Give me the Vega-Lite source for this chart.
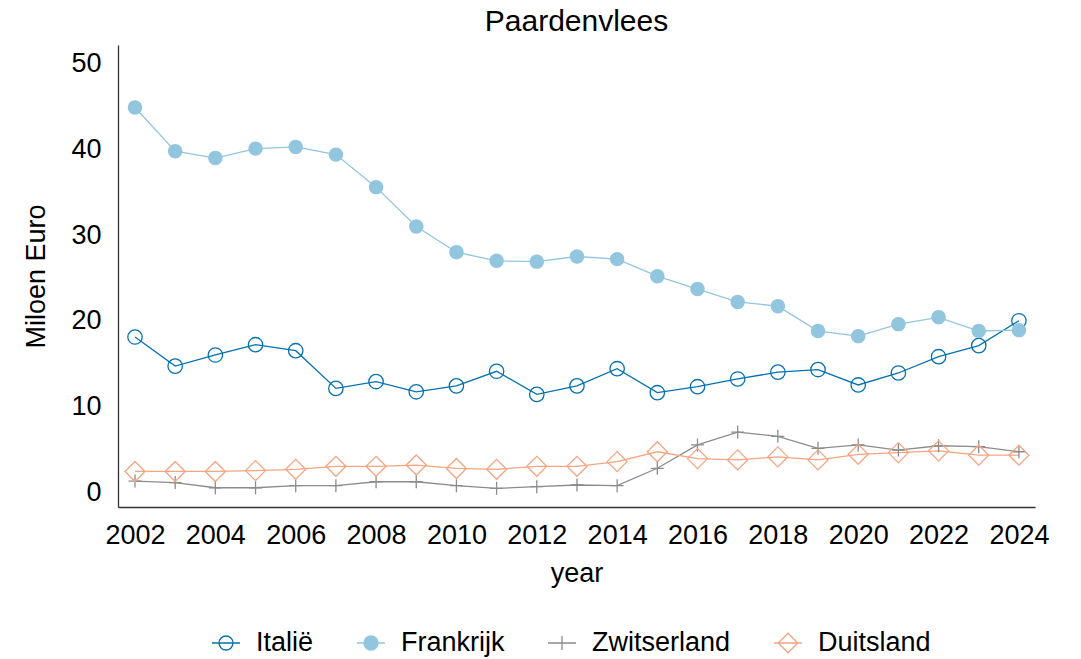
{
  "$schema": "https://vega.github.io/schema/vega-lite/v6.json",
  "autosize": "none",
  "width": 917,
  "height": 462,
  "padding": {"left": 118, "top": 45, "right": 46, "bottom": 152},
  "background": "white",
  "config": {
    "view": {"stroke": null},
    "font": "Liberation Sans",
    "title": {"fontSize": 30, "fontWeight": "normal", "color": "black", "font": "Liberation Sans"}
  },
  "title": {"text": "Paardenvlees", "anchor": "middle", "offset": 8},
  "data": {
    "values": [
      {"year": 2002, "country": "Italië", "value": 18.1},
      {"year": 2003, "country": "Italië", "value": 14.7},
      {"year": 2004, "country": "Italië", "value": 16.0},
      {"year": 2005, "country": "Italië", "value": 17.2},
      {"year": 2006, "country": "Italië", "value": 16.5},
      {"year": 2007, "country": "Italië", "value": 12.1},
      {"year": 2008, "country": "Italië", "value": 12.9},
      {"year": 2009, "country": "Italië", "value": 11.7},
      {"year": 2010, "country": "Italië", "value": 12.4},
      {"year": 2011, "country": "Italië", "value": 14.1},
      {"year": 2012, "country": "Italië", "value": 11.4},
      {"year": 2013, "country": "Italië", "value": 12.4},
      {"year": 2014, "country": "Italië", "value": 14.4},
      {"year": 2015, "country": "Italië", "value": 11.6},
      {"year": 2016, "country": "Italië", "value": 12.3},
      {"year": 2017, "country": "Italië", "value": 13.2},
      {"year": 2018, "country": "Italië", "value": 14.0},
      {"year": 2019, "country": "Italië", "value": 14.3},
      {"year": 2020, "country": "Italië", "value": 12.5},
      {"year": 2021, "country": "Italië", "value": 13.9},
      {"year": 2022, "country": "Italië", "value": 15.8},
      {"year": 2023, "country": "Italië", "value": 17.1},
      {"year": 2024, "country": "Italië", "value": 20.0},
      {"year": 2002, "country": "Frankrijk", "value": 44.9},
      {"year": 2003, "country": "Frankrijk", "value": 39.8},
      {"year": 2004, "country": "Frankrijk", "value": 39.0},
      {"year": 2005, "country": "Frankrijk", "value": 40.1},
      {"year": 2006, "country": "Frankrijk", "value": 40.3},
      {"year": 2007, "country": "Frankrijk", "value": 39.4},
      {"year": 2008, "country": "Frankrijk", "value": 35.6},
      {"year": 2009, "country": "Frankrijk", "value": 31.0},
      {"year": 2010, "country": "Frankrijk", "value": 28.0},
      {"year": 2011, "country": "Frankrijk", "value": 27.0},
      {"year": 2012, "country": "Frankrijk", "value": 26.9},
      {"year": 2013, "country": "Frankrijk", "value": 27.5},
      {"year": 2014, "country": "Frankrijk", "value": 27.2},
      {"year": 2015, "country": "Frankrijk", "value": 25.2},
      {"year": 2016, "country": "Frankrijk", "value": 23.7},
      {"year": 2017, "country": "Frankrijk", "value": 22.2},
      {"year": 2018, "country": "Frankrijk", "value": 21.7},
      {"year": 2019, "country": "Frankrijk", "value": 18.8},
      {"year": 2020, "country": "Frankrijk", "value": 18.2},
      {"year": 2021, "country": "Frankrijk", "value": 19.6},
      {"year": 2022, "country": "Frankrijk", "value": 20.4},
      {"year": 2023, "country": "Frankrijk", "value": 18.8},
      {"year": 2024, "country": "Frankrijk", "value": 18.9},
      {"year": 2002, "country": "Zwitserland", "value": 1.28},
      {"year": 2003, "country": "Zwitserland", "value": 1.1},
      {"year": 2004, "country": "Zwitserland", "value": 0.5},
      {"year": 2005, "country": "Zwitserland", "value": 0.5},
      {"year": 2006, "country": "Zwitserland", "value": 0.74},
      {"year": 2007, "country": "Zwitserland", "value": 0.74},
      {"year": 2008, "country": "Zwitserland", "value": 1.2},
      {"year": 2009, "country": "Zwitserland", "value": 1.2},
      {"year": 2010, "country": "Zwitserland", "value": 0.74},
      {"year": 2011, "country": "Zwitserland", "value": 0.43},
      {"year": 2012, "country": "Zwitserland", "value": 0.62},
      {"year": 2013, "country": "Zwitserland", "value": 0.82},
      {"year": 2014, "country": "Zwitserland", "value": 0.74},
      {"year": 2015, "country": "Zwitserland", "value": 2.77},
      {"year": 2016, "country": "Zwitserland", "value": 5.5},
      {"year": 2017, "country": "Zwitserland", "value": 7.0},
      {"year": 2018, "country": "Zwitserland", "value": 6.5},
      {"year": 2019, "country": "Zwitserland", "value": 5.1},
      {"year": 2020, "country": "Zwitserland", "value": 5.5},
      {"year": 2021, "country": "Zwitserland", "value": 4.9},
      {"year": 2022, "country": "Zwitserland", "value": 5.4},
      {"year": 2023, "country": "Zwitserland", "value": 5.3},
      {"year": 2024, "country": "Zwitserland", "value": 4.7},
      {"year": 2002, "country": "Duitsland", "value": 2.4},
      {"year": 2003, "country": "Duitsland", "value": 2.4},
      {"year": 2004, "country": "Duitsland", "value": 2.4},
      {"year": 2005, "country": "Duitsland", "value": 2.5},
      {"year": 2006, "country": "Duitsland", "value": 2.65},
      {"year": 2007, "country": "Duitsland", "value": 3.0},
      {"year": 2008, "country": "Duitsland", "value": 3.0},
      {"year": 2009, "country": "Duitsland", "value": 3.15},
      {"year": 2010, "country": "Duitsland", "value": 2.75},
      {"year": 2011, "country": "Duitsland", "value": 2.65},
      {"year": 2012, "country": "Duitsland", "value": 3.0},
      {"year": 2013, "country": "Duitsland", "value": 3.0},
      {"year": 2014, "country": "Duitsland", "value": 3.55},
      {"year": 2015, "country": "Duitsland", "value": 4.7},
      {"year": 2016, "country": "Duitsland", "value": 3.9},
      {"year": 2017, "country": "Duitsland", "value": 3.75},
      {"year": 2018, "country": "Duitsland", "value": 4.1},
      {"year": 2019, "country": "Duitsland", "value": 3.75},
      {"year": 2020, "country": "Duitsland", "value": 4.4},
      {"year": 2021, "country": "Duitsland", "value": 4.6},
      {"year": 2022, "country": "Duitsland", "value": 4.8},
      {"year": 2023, "country": "Duitsland", "value": 4.3},
      {"year": 2024, "country": "Duitsland", "value": 4.3}
    ]
  },
  "encoding": {
    "x": {
      "field": "year", "type": "quantitative",
      "scale": {"domain": [2001.577, 2024.4], "nice": false, "zero": false},
      "axis": {
        "values": [2002, 2004, 2006, 2008, 2010, 2012, 2014, 2016, 2018, 2020, 2022, 2024],
        "format": "d", "grid": false, "ticks": false,
        "domainColor": "#333333", "domainWidth": 1.3,
        "labelFontSize": 27, "labelColor": "black", "labelPadding": 15, "labelFlush": false,
        "title": "year", "titleFontSize": 27, "titleFontWeight": "normal", "titleColor": "black", "titlePadding": 12
      }
    },
    "y": {
      "field": "value", "type": "quantitative",
      "scale": {"domain": [-1.75, 52.2], "nice": false, "zero": false},
      "axis": {
        "values": [0, 10, 20, 30, 40, 50],
        "grid": false, "ticks": false,
        "domainColor": "#333333", "domainWidth": 1.3,
        "labelFontSize": 27, "labelColor": "black", "labelPadding": 17,
        "title": "Miloen Euro", "titleFontSize": 27, "titleFontWeight": "normal", "titleColor": "black", "titlePadding": 20
      }
    }
  },
  "layer": [
    {
      "mark": {"type": "line", "strokeWidth": 1.3},
      "encoding": {
        "color": {
          "field": "country", "type": "nominal",
          "scale": {"domain": ["Italië", "Frankrijk", "Zwitserland", "Duitsland"], "range": ["#0571b0", "#92c5de", "#8c8c8c", "#f4a582"]},
          "legend": {
            "orient": "none", "direction": "horizontal", "legendX": 93, "legendY": 583,
            "title": null, "padding": 0,
            "symbolSize": 784, "symbolStrokeWidth": 1.3,
            "labelFontSize": 27, "labelColor": "black", "labelOffset": 15, "columnPadding": 40,
            "encode": {
              "symbols": {
                "update": {
                  "shape": {"signal": "datum.value === 'Italië' || datum.value === 'Frankrijk' ? 'M-1,0L1,0M-0.5,0A0.5,0.5,0,1,1,0.5,0A0.5,0.5,0,1,1,-0.5,0Z' : datum.value === 'Zwitserland' ? 'M-1,0L1,0M0,-0.5L0,0.5' : 'M-1,0L1,0M-0.7,0L0,-0.7L0.7,0L0,0.7Z'"},
                  "fill": {"signal": "datum.value === 'Frankrijk' ? '#92c5de' : 'transparent'"}
                }
              }
            }
          }
        },
        "detail": {"field": "country"}
      }
    },
    {
      "transform": [{"filter": "datum.country === 'Italië'"}],
      "mark": {"type": "point", "size": 400, "strokeWidth": 1.3, "opacity": 1, "filled": false, "color": "#0571b0",
               "shape": "M-0.72,0A0.72,0.72,0,1,1,0.72,0A0.72,0.72,0,1,1,-0.72,0Z"},
      "encoding": {}
    },
    {
      "transform": [{"filter": "datum.country === 'Frankrijk'"}],
      "mark": {"type": "point", "size": 400, "strokeWidth": 1.3, "opacity": 1, "filled": true, "color": "#92c5de",
               "shape": "M-0.72,0A0.72,0.72,0,1,1,0.72,0A0.72,0.72,0,1,1,-0.72,0Z"},
      "encoding": {}
    },
    {
      "transform": [{"filter": "datum.country === 'Zwitserland'"}],
      "mark": {"type": "point", "size": 400, "strokeWidth": 1.3, "opacity": 1, "filled": false, "color": "#8c8c8c",
               "shape": "M-0.65,0L0.65,0M0,-0.65L0,0.65"},
      "encoding": {}
    },
    {
      "transform": [{"filter": "datum.country === 'Duitsland'"}],
      "mark": {"type": "point", "size": 400, "strokeWidth": 1.3, "opacity": 1, "filled": false, "color": "#f4a582",
               "shape": "M-1,0L0,-1L1,0L0,1Z"},
      "encoding": {}
    }
  ]
}
